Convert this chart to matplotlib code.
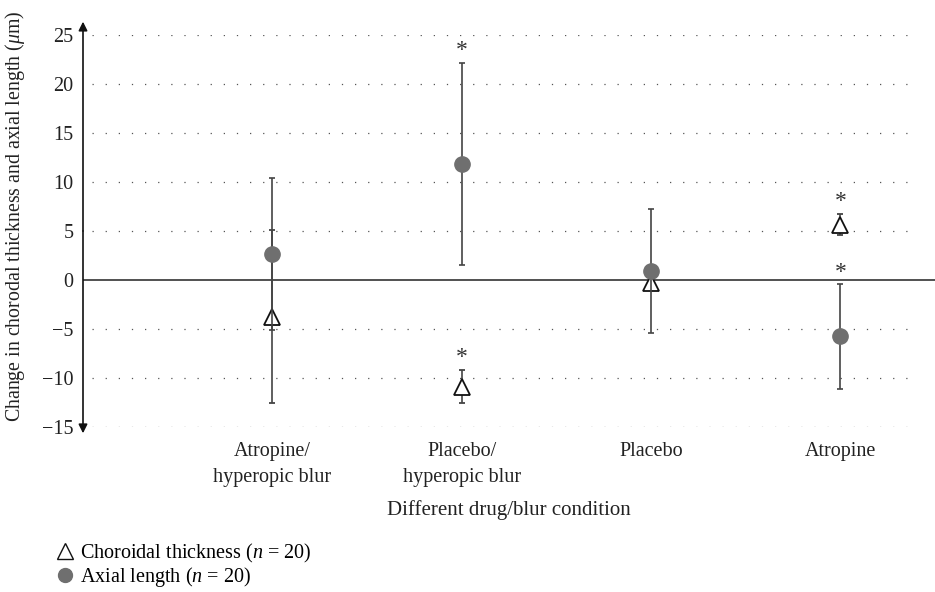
"""Change in choroidal thickness and axial length by drug/blur condition."""

import matplotlib

matplotlib.use("Agg")
import matplotlib.pyplot as plt
from matplotlib.lines import Line2D

plt.rcParams["font.family"] = ["Liberation Serif", "DejaVu Serif"]
plt.rcParams["mathtext.fontset"] = "custom"
plt.rcParams["mathtext.rm"] = "Liberation Serif"
plt.rcParams["mathtext.it"] = "Liberation Serif:italic"

conditions = ["Atropine/\nhyperopic blur", "Placebo/\nhyperopic blur", "Placebo", "Atropine"]
positions = [1, 2, 3, 4]

choroid_mean = [-3.75, -10.9, -0.3, 5.65]
choroid_err = [8.85, 1.7, 0.0, 1.05]
axial_mean = [2.65, 11.8, 0.9, -5.75]
axial_err = [7.75, 10.3, 6.3, 5.35]

# asterisk positions (significance marks)
star_x = [2, 2, 4, 4]
star_y = [23.4, -7.9, 8.0, 0.8]

yticks = [-15, -10, -5, 0, 5, 10, 15, 20, 25]

fig = plt.figure(figsize=(9.35, 5.92), dpi=100)
ax = fig.add_axes([83 / 935, 1 - 427 / 592, 1 - 83 / 935, (427 - 35) / 592])
ax.set_xlim(0, 4.5)
ax.set_ylim(-15, 25)

for s in ax.spines.values():
	s.set_visible(False)

# dotted grid lines, solid zero line
for y in yticks:
	if y == 0:
		ax.axhline(0, color="#222222", lw=1.1, zorder=1)
	else:
		ax.hlines(y, 0.05, 4.38, color="#555555", lw=0.9, linestyles=(0, (1, 9.5)), zorder=1)

# y axis with arrows at both ends
arrow = dict(arrowstyle="-|>", color="#111111", lw=1.2, mutation_scale=13, shrinkA=0, shrinkB=0)
ax.annotate("", xy=(0, 1.034), xytext=(0, 0.5), xycoords="axes fraction",
			arrowprops=arrow, annotation_clip=False)
ax.annotate("", xy=(0, -0.016), xytext=(0, 0.5), xycoords="axes fraction",
			arrowprops=arrow, annotation_clip=False)

ax.errorbar(positions, choroid_mean, yerr=choroid_err, fmt="^", ms=12, mfc="white",
			mec="#111111", mew=1.3, ecolor="#444444", elinewidth=1.2, capsize=2.5,
			capthick=1.2, zorder=3)
ax.errorbar(positions, axial_mean, yerr=axial_err, fmt="o", ms=11, mfc="#6f6f6f",
			mec="#6f6f6f", ecolor="#444444", elinewidth=1.2, capsize=2.5, capthick=1.2,
			zorder=4)

for x, y in zip(star_x, star_y):
	ax.text(x, y, "*", ha="center", va="center", fontsize=17, color="#333333")

ax.set_yticks(yticks)
ax.set_yticklabels([str(t).replace("-", "\u2212") for t in yticks])
ax.set_xticks(positions)
ax.set_xticklabels(conditions, linespacing=1.5)
ax.tick_params(axis="both", length=0, labelsize=14.5, colors="#222222")
ax.tick_params(axis="y", pad=7)
ax.tick_params(axis="x", pad=11)

fig.text(15 / 935, 1 - 216 / 592, r"Change in chorodal thickness and axial length ($\mu$m)",
		 rotation=90, ha="center", va="center", fontsize=14.3, color="#222222")
fig.text(509 / 935, 1 - 510 / 592, "Different drug/blur condition", ha="center",
		 va="center", fontsize=15, color="#222222")

handles = [
	Line2D([], [], marker="^", ls="none", ms=11, mfc="white", mec="#111111", mew=1.0),
	Line2D([], [], marker="o", ls="none", ms=10, mfc="#6f6f6f", mec="#6f6f6f"),
]
labels = [r"Choroidal thickness ($n$ = 20)", r"Axial length ($n$ = 20)"]
fig.legend(handles, labels, loc="upper left", bbox_to_anchor=(57 / 935, 1 - 542 / 592),
		   frameon=False, fontsize=14.5, handlelength=0.8, handletextpad=0.35,
		   labelspacing=0.02, borderaxespad=0, borderpad=0)

fig.savefig("out.png", dpi=100)
